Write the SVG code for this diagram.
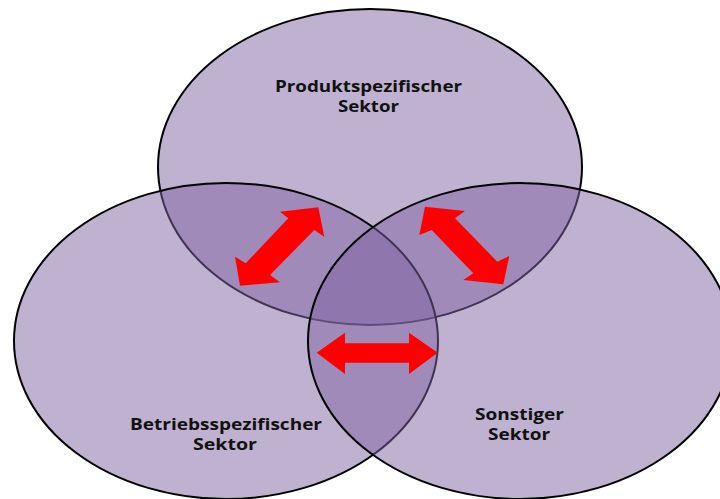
<svg xmlns="http://www.w3.org/2000/svg" width="720" height="499" viewBox="0 0 720 499">
  <style>
    .sector { fill: #8064A2; fill-opacity: 0.5; stroke: #000; stroke-width: 2; }
    .label { font-family: "Open Sans", "Liberation Sans", sans-serif; font-weight: 700; font-size: 16px; fill: #111; }
    .link { fill: #FF0000; stroke: none; }
  </style>
  <rect width="720" height="499" fill="#fff"/>

  <!-- Sector circles: drawn top, left, right so later outlines stay crisp -->
  <g id="produktspezifisch">
    <ellipse class="sector" cx="370" cy="167" rx="212" ry="158"/>
    <text class="label" x="275" y="92" textLength="187" lengthAdjust="spacingAndGlyphs">Produktspezifischer</text>
    <text class="label" x="338" y="112" textLength="61" lengthAdjust="spacingAndGlyphs">Sektor</text>
  </g>

  <g id="betriebsspezifisch">
    <ellipse class="sector" cx="226" cy="341" rx="212" ry="158"/>
    <text class="label" x="130" y="430" textLength="192" lengthAdjust="spacingAndGlyphs">Betriebsspezifischer</text>
    <text class="label" x="193" y="450" textLength="64" lengthAdjust="spacingAndGlyphs">Sektor</text>
  </g>

  <g id="sonstig">
    <ellipse class="sector" cx="520" cy="341" rx="212" ry="158"/>
    <text class="label" x="475" y="420" textLength="89" lengthAdjust="spacingAndGlyphs">Sonstiger</text>
    <text class="label" x="488" y="440" textLength="62" lengthAdjust="spacingAndGlyphs">Sektor</text>
  </g>

  <!-- Double-headed block arrows between the sectors -->
  <g id="connectors">
    <polygon class="link" points="280,211.7 318.3,207.3 324.3,236.7 314.3,230 270,275 280,282.3 240,285.7 235,256.7 245.7,263.3 288.3,218.3"/>
    <polygon class="link" points="425,206.7 465,211 455,218.3 497.3,261.7 509.3,256 503.3,284.3 463.3,280 473.3,273.3 431.7,230 419.3,235"/>
    <polygon class="link" points="316.7,352.7 345,332.7 345,343.3 409,343.3 409,332.7 437.7,352.7 409,374 409,362.7 345,362.7 345,374"/>
  </g>
</svg>
